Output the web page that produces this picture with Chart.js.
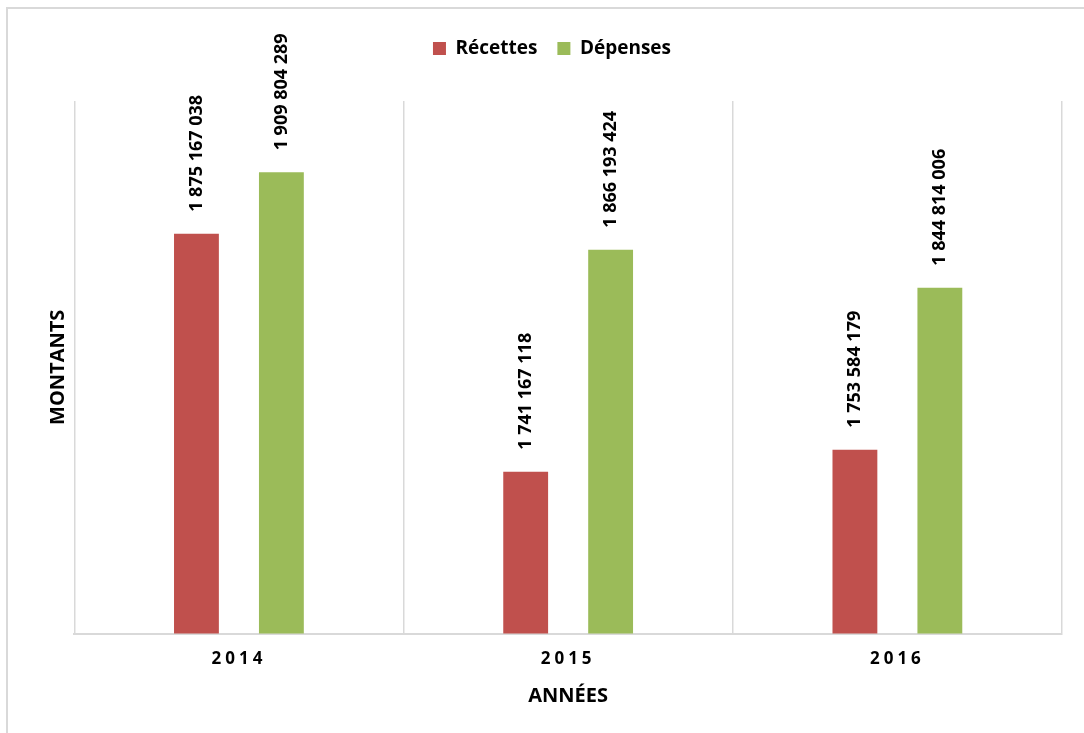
<!DOCTYPE html>
<html>
<head>
<meta charset="utf-8">
<script src="https://cdn.jsdelivr.net/npm/chart.js@4/dist/chart.umd.min.js"></script>
<style>
  html, body { margin: 0; padding: 0; background: #fff; overflow: hidden; }
  #frame { position: absolute; left: 6px; top: 7px; width: 1100px; height: 730px; border: 2px solid #d9d9d9; }
  #holder { position: relative; width: 1100px; height: 724px; }
</style>
</head>
<body>
<div id="frame"><div id="holder"><canvas id="myChart"></canvas></div></div>
<script>
// chart data
const years = ['2014', '2015', '2016']
const recettes = [1875167038, 1741167118, 1753584179]
const depenses = [1909804289, 1866193424, 1844814006]
const yMin = 1650000000
const yMax = 1950000000

const fontName = '"Open Sans", "Noto Sans", sans-serif'

// numbers written like "1 875 167 038"
function spaced(n){
    return String(n).replace(/\B(?=(\d{3})+(?!\d))/g, ' ')
}

// value labels standing on top of the bars, turned upright
const barLabels = {
    id: 'barLabels',
    afterDatasetsDraw(chart){
        let ctx = chart.ctx
        ctx.save()
        ctx.font = 'bold 18px ' + fontName
        ctx.fillStyle = '#000'
        ctx.textAlign = 'left'
        ctx.textBaseline = 'middle'
        chart.data.datasets.forEach((ds, i) => {
            chart.getDatasetMeta(i).data.forEach((bar, j) => {
                ctx.save()
                ctx.translate(bar.x, bar.y - 22)
                ctx.rotate(-Math.PI / 2)
                ctx.fillText(spaced(ds.data[j]), 0, 0)
                ctx.restore()
            })
        })
        ctx.restore()
    }
}

// extra room under the legend + spaced out year labels
const tweaks = {
    id: 'tweaks',
    beforeInit(chart){
        const fit = chart.legend.fit
        chart.legend.fit = function(){
            fit.bind(chart.legend)()
            this.height += 33
        }
    },
    afterLayout(chart){
        let s = chart.scales.x
        if (!s._spaced){
            const orig = s.drawLabels
            s.drawLabels = function(a){
                this.ctx.save()
                this.ctx.letterSpacing = '4px'
                orig.call(this, a)
                this.ctx.restore()
            }
            s._spaced = true
        }
    }
}

let ctx = document.getElementById('myChart').getContext('2d')
let chart1 = new Chart(ctx, {
    type: 'bar',
    data: {
        labels: years,
        datasets: [
            { label: 'Récettes', data: recettes, backgroundColor: '#C0504D', categoryPercentage: 0.516, barPercentage: 0.528 },
            { label: 'Dépenses', data: depenses, backgroundColor: '#9BBB59', categoryPercentage: 0.516, barPercentage: 0.528 }
        ]
    },
    options: {
        responsive: true,
        maintainAspectRatio: false,
        animation: false,
        layout: { padding: { left: 34, right: 46, top: 10, bottom: 21 } },
        plugins: {
            tooltip: { enabled: false },
            legend: {
                position: 'top',
                labels: {
                    color: '#000',
                    boxWidth: 13,
                    boxHeight: 13,
                    padding: 20,
                    font: { family: fontName, size: 19, weight: 'bold' }
                }
            }
        },
        scales: {
            x: {
                grid: { display: true, offset: true, color: '#d9d9d9', lineWidth: 1.5, drawTicks: false },
                border: { display: true, color: '#d9d9d9', width: 2 },
                ticks: { color: '#000', padding: 15, font: { family: fontName, size: 17, weight: 'bold' } },
                title: { display: true, text: 'ANNÉES', color: '#000', padding: { top: 0, bottom: 4 },
                         font: { family: fontName, size: 20, weight: 'bold' } }
            },
            y: {
                min: yMin,
                max: yMax,
                grid: { display: false, drawTicks: false },
                border: { display: false },
                ticks: { display: false },
                title: { display: true, text: 'MONTANTS', color: '#000', padding: { top: 4, bottom: 4.3 },
                         font: { family: fontName, size: 20, weight: 'bold' } }
            }
        }
    },
    plugins: [barLabels, tweaks]
})
</script>
</body>
</html>
